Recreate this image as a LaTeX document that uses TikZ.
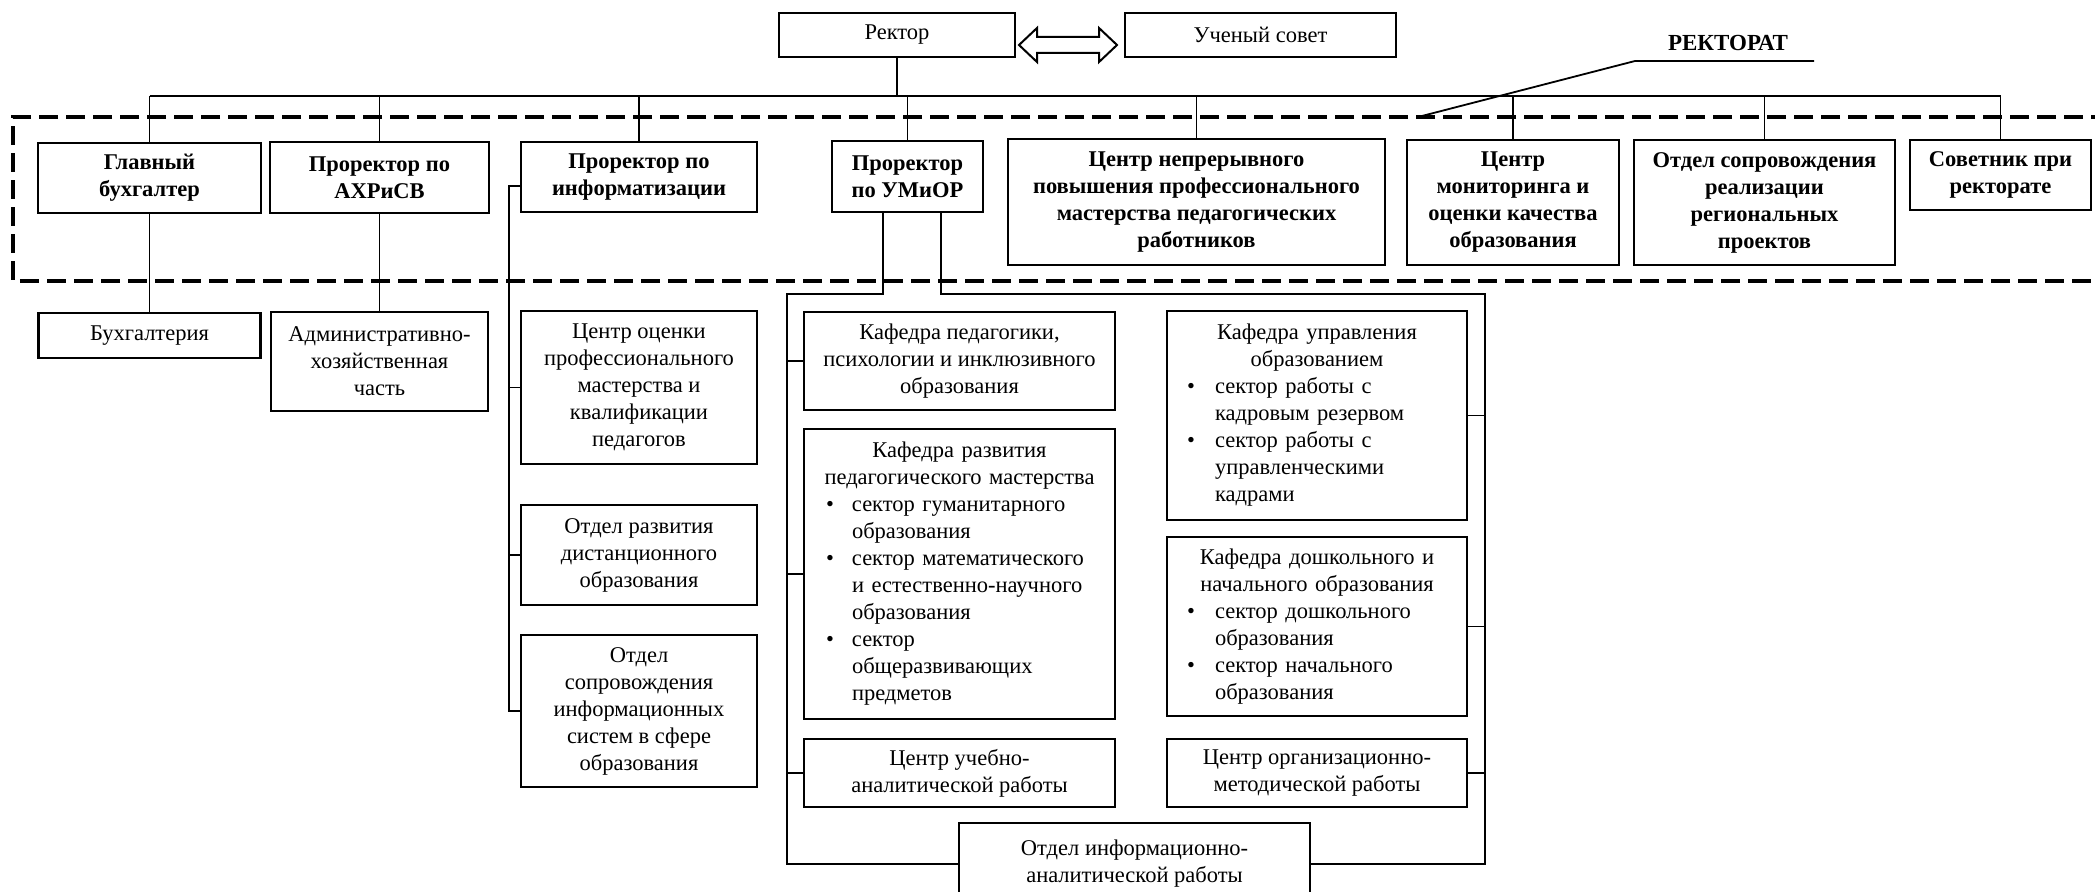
\documentclass[tikz,border=0pt]{standalone}
\usepackage{fontspec}
\setmainfont{Liberation Serif}
\usetikzlibrary{calc}
\newcommand\hdr[2]{\makebox[#1][c]{#2}}
\newcommand\bul[3]{\hspace*{#1}\makebox[#2][l]{\textbullet}#3}
\begin{document}
\begin{tikzpicture}[x=1pt,y=-1pt,
  box/.style={draw, line width=2.7pt, inner sep=0pt, align=center, font=\fontsize{22.5}{27}\selectfont},
  bbox/.style={box, font=\fontsize{22.5}{27}\selectfont\bfseries},
  lbox/.style={box, align=left},
  conn/.style={line width=1.7pt},
  rdash/.style={line width=3.2pt, dash pattern=on 19pt off 8pt},
]
\useasboundingbox (0,0) rectangle (2095,891);

% top
\node[box, minimum width=236pt, minimum height=44pt] (rector) at (897,35) {Ректор};
\node[box, minimum width=271pt, minimum height=44pt] (council) at (1260.5,35) {Ученый совет};
\draw[line width=2pt, line join=miter]
  (1019,45) -- (1037,28) -- (1037,37) -- (1099,37) -- (1099,28) -- (1117,45)
  -- (1099,62) -- (1099,53) -- (1037,53) -- (1037,62) -- cycle;
\node[font=\fontsize{23}{27}\selectfont\bfseries, inner sep=0pt] (rectorat) at (1728,43) {РЕКТОРАТ};
\coordinate (ulA) at (1635,61);
\coordinate (ulB) at (1814,61);
\coordinate (ulC) at (1418,117);
\draw[line width=1.8pt] (ulB) -- (ulA) -- (ulC);

% dashed frame
\draw[rdash] (2110,117) -- (13,117) -- (13,281) -- (2110,281);

% row 1
\node[bbox, minimum width=223pt, minimum height=70pt] (glavbuh) at (149.5,178) {Главный\\бухгалтер};
\node[bbox, minimum width=219pt, minimum height=71pt] (ahr) at (379.5,177.5) {Проректор по\\АХРиСВ};
\node[bbox, minimum width=236pt, minimum height=70pt] (inform) at (639,177) {Проректор по\\информатизации};
\node[bbox, minimum width=151pt, minimum height=71pt] (umior) at (907.5,176.5) {Проректор\\по УМиОР};
\node[bbox, minimum width=377pt, minimum height=126pt] (cnpp) at (1196.5,202) {Центр непрерывного\\повышения профессионального\\мастерства педагогических\\работников};
\node[bbox, minimum width=212pt, minimum height=125pt] (cmok) at (1513,202.5) {Центр\\мониторинга и\\оценки качества\\образования};
\node[bbox, minimum width=261pt, minimum height=125pt] (osrrp) at (1764.5,202.5) {Отдел сопровождения\\реализации\\региональных\\проектов};
\node[bbox, minimum width=181pt, minimum height=70pt] (sovet) at (2000.5,175) {Советник при\\ректорате};

% bus
\coordinate (bus) at (150,96);
\draw[conn] (glavbuh.north |- bus) -- (sovet.north |- bus);
\draw[conn] (rector.south) -- (rector.south |- bus);
\foreach \n in {glavbuh,ahr,inform,umior,cnpp,cmok,osrrp,sovet}
  \draw[conn] (\n.north) -- (\n.north |- bus);

% row 2 left
\node[box, minimum width=222pt, minimum height=45pt] (buh) at (149.5,335.5) {Бухгалтерия};
\node[box, minimum width=217pt, minimum height=99pt] (ahch) at (379.5,361.5) {Административно-\\хозяйственная\\часть};
\draw[conn] (glavbuh.south) -- (buh.north);
\draw[conn] (ahr.south) -- (ahch.north);

% informatization column
\node[box, minimum width=236pt, minimum height=153pt] (coc) at (639,387.5) {Центр оценки\\профессионального\\мастерства и\\квалификации\\педагогов};
\node[box, minimum width=236pt, minimum height=100pt] (ordo) at (639,555) {Отдел развития\\дистанционного\\образования};
\node[box, minimum width=236pt, minimum height=152pt] (osis) at (639,711) {Отдел\\сопровождения\\информационных\\систем в сфере\\образования};
\coordinate (iL) at (509,186);
\draw[conn] (iL -| inform.west) -- (iL) |- (osis.west);
\draw[conn] (iL |- coc.west) -- (coc.west);
\draw[conn] (iL |- ordo.west) -- (ordo.west);

% UMiOR left column
\node[box, minimum width=311pt, minimum height=98pt] (kpp) at (959.5,361) {Кафедра педагогики,\\психологии и инклюзивного\\образования};
\node[lbox, text width=311pt, minimum height=290pt] (krpm) at (959.5,574) {%
\hdr{311pt}{Кафедра развития}\\
\hdr{311pt}{педагогического мастерства}\\
\bul{22pt}{26pt}{сектор гуманитарного}\\
\hspace*{48pt}образования\\
\bul{22pt}{26pt}{сектор математического}\\
\hspace*{48pt}и естественно-научного\\
\hspace*{48pt}образования\\
\bul{22pt}{26pt}{сектор}\\
\hspace*{48pt}общеразвивающих\\
\hspace*{48pt}предметов};
\node[box, minimum width=311pt, minimum height=68pt] (cuar) at (959.5,773) {Центр учебно-\\аналитической работы};

% UMiOR right column
\node[lbox, text width=300pt, minimum height=209pt] (kuo) at (1317,415.5) {%
\hdr{300pt}{Кафедра управления}\\
\hdr{300pt}{образованием}\\
\bul{20pt}{28pt}{сектор работы с}\\
\hspace*{48pt}кадровым резервом\\
\bul{20pt}{28pt}{сектор работы с}\\
\hspace*{48pt}управленческими\\
\hspace*{48pt}кадрами};
\node[lbox, text width=300pt, minimum height=179pt] (kdno) at (1317,626.5) {%
\hdr{300pt}{Кафедра дошкольного и}\\
\hdr{300pt}{начального образования}\\
\bul{20pt}{28pt}{сектор дошкольного}\\
\hspace*{48pt}образования\\
\bul{20pt}{28pt}{сектор начального}\\
\hspace*{48pt}образования};
\node[box, minimum width=300pt, minimum height=68pt] (comr) at (1317,773) {Центр организационно-\\методической работы};

\node[box, minimum width=351pt, minimum height=82pt] (oiar) at (1134.5,864) {Отдел информационно-\\аналитической работы};

% UMiOR brackets
\coordinate (uL) at (883,294);
\coordinate (uLL) at (787,294);
\coordinate (uR) at (941,294);
\coordinate (uRR) at (1485,294);
\draw[conn] (uL |- umior.south) -- (uL) -- (uLL) |- (oiar.west);
\draw[conn] (uR |- umior.south) -- (uR) -- (uRR) |- (oiar.east);
\foreach \n in {kpp,krpm,cuar} \draw[conn] (uLL |- \n.west) -- (\n.west);
\foreach \n in {kuo,kdno,comr} \draw[conn] (uRR |- \n.east) -- (\n.east);
\end{tikzpicture}
\end{document}
